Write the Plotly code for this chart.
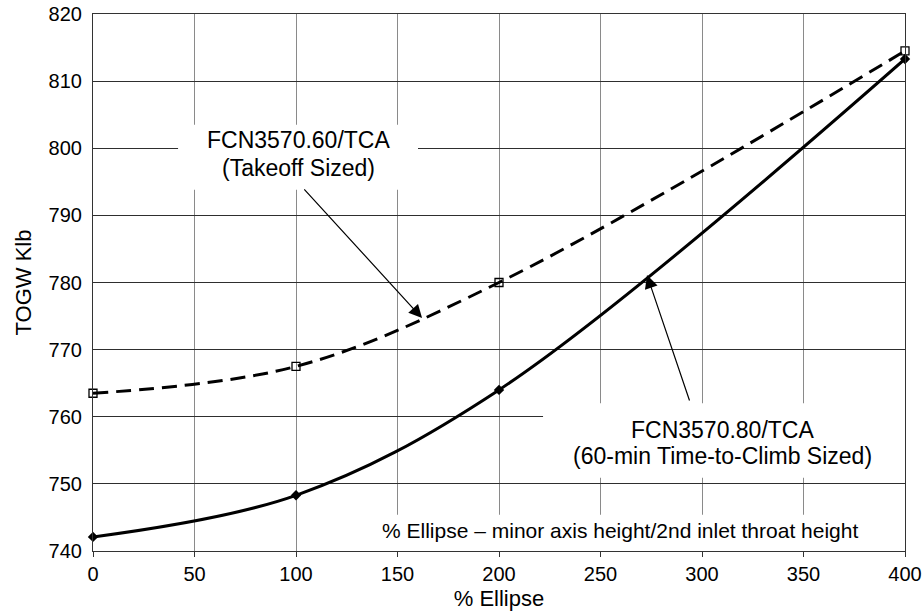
import plotly.graph_objects as go

# % Ellipse (minor axis height / 2nd inlet throat height)
ellipse_pct = [0, 100, 200, 400]

# TOGW (Klb) for the two configurations
togw_takeoff = [763.5, 767.5, 780.0, 814.5]   # FCN3570.60/TCA
togw_climb = [742.1, 748.3, 764.0, 813.3]     # FCN3570.80/TCA

x_ticks = [0, 50, 100, 150, 200, 250, 300, 350, 400]
y_ticks = [740, 750, 760, 770, 780, 790, 800, 810, 820]

label_takeoff = ["FCN3570.60/TCA", "(Takeoff Sized)"]
label_climb = ["FCN3570.80/TCA", "(60-min Time-to-Climb Sized)"]
note_text = "% Ellipse \u2013 minor axis height/2nd inlet throat height"

FONT = "Liberation Sans, Arial, Helvetica, sans-serif"

fig = go.Figure()

fig.add_trace(go.Scatter(
    x=ellipse_pct, y=togw_takeoff, mode="lines+markers",
    line=dict(color="black", width=3, dash="15px,8px", shape="spline", smoothing=1.0),
    marker=dict(symbol="square-open", size=8, color="black", line=dict(width=1.3)),
    cliponaxis=False, showlegend=False,
))
fig.add_trace(go.Scatter(
    x=ellipse_pct, y=togw_climb, mode="lines+markers",
    line=dict(color="black", width=3, shape="spline", smoothing=1.0),
    marker=dict(symbol="diamond", size=8, color="black"),
    cliponaxis=False, showlegend=False,
))

# white label panels sitting over the grid
panels = [
    (41.9, 160.1, 793.8, 803.5),
    (221.7, 400.0, 750.9, 762.0),
    (137.4, 400.0, 740.0, 745.4),
]
for x0, x1, y0, y1 in panels:
    fig.add_shape(type="rect", xref="x", yref="y", x0=x0, x1=x1, y0=y0, y1=y1,
                  fillcolor="white", line=dict(width=0), layer="between")

annotations = []
# two-line labels
for (cx, cy1, cy2), lines in [((101.0, 801.2, 797.0), label_takeoff),
                               ((310.0, 758.1, 754.2), label_climb)]:
    for cy, txt in zip((cy1, cy2), lines):
        annotations.append(dict(x=cx, y=cy, xref="x", yref="y", text=txt,
                                showarrow=False, font=dict(family=FONT, size=23, color="black"),
                                xanchor="center", yanchor="middle"))

annotations.append(dict(x=259.6, y=743.0, xref="x", yref="y", text=note_text,
                        showarrow=False, font=dict(family=FONT, size=21, color="black"),
                        xanchor="center", yanchor="middle"))

# leader arrows from the labels to the curves
for tip, tail in [((162.1, 774.7), (103.4, 794.1)),
                  ((272.9, 781.1), (294.1, 762.2))]:
    annotations.append(dict(x=tip[0], y=tip[1], ax=tail[0], ay=tail[1],
                            xref="x", yref="y", axref="x", ayref="y", text="",
                            showarrow=True, arrowhead=2, arrowsize=2.2, arrowwidth=1.2,
                            arrowcolor="black", standoff=0, startstandoff=0))

fig.update_layout(
    width=924, height=616,
    margin=dict(l=93, r=19, t=14, b=65, autoexpand=False),
    paper_bgcolor="white", plot_bgcolor="white",
    font=dict(family=FONT, size=20, color="black"),
    annotations=annotations,
    xaxis=dict(
        range=[0, 400], tickvals=x_ticks, ticktext=[str(v) for v in x_ticks],
        showgrid=True, gridcolor="#8a8a8a", gridwidth=1,
        showline=True, linecolor="#333333", linewidth=1.2, mirror=True,
        ticks="outside", ticklen=5, tickcolor="#333333", tickwidth=1,
        tickfont=dict(size=20), zeroline=False, automargin=False,
        title=dict(text="% Ellipse", font=dict(size=22), standoff=6),
    ),
    yaxis=dict(
        range=[740, 820], tickvals=y_ticks, ticktext=[str(v) for v in y_ticks],
        showgrid=True, gridcolor="#2e2e2e", gridwidth=1,
        showline=True, linecolor="#333333", linewidth=1.2, mirror=True,
        ticks="", tickfont=dict(size=20), zeroline=False, ticklabelstandoff=6,
        automargin=False,
        title=dict(text="TOGW Klb", font=dict(size=22), standoff=10),
    ),
)

fig.write_html("out.html")
